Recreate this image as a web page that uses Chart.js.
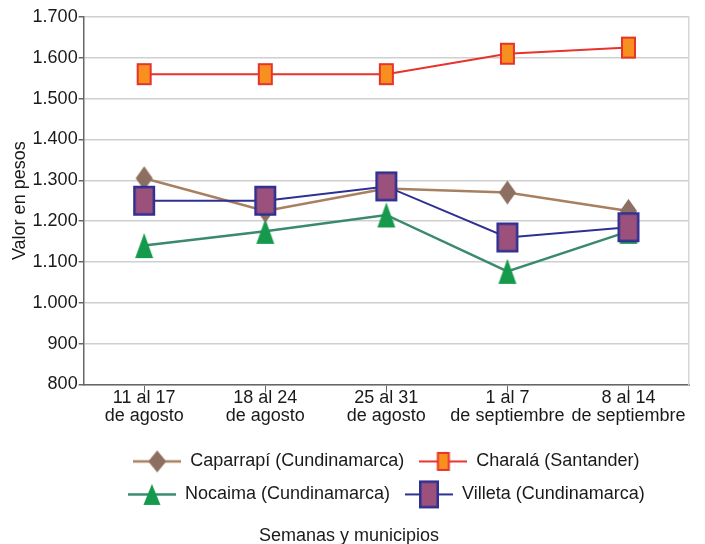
<!DOCTYPE html>
<html>
<head>
<meta charset="utf-8">
<script src="https://cdn.jsdelivr.net/npm/chart.js@4/dist/chart.umd.min.js"></script>
<style>
  html, body { margin: 0; padding: 0; background: #fff; }
</style>
</head>
<body>
<canvas id="chart" width="705" height="544"></canvas>
<script>
// Semanas (categorias del eje x)
const weeks = [
  ['11 al 17', 'de agosto'],
  ['18 al 24', 'de agosto'],
  ['25 al 31', 'de agosto'],
  ['1 al 7', 'de septiembre'],
  ['8 al 14', 'de septiembre']
];

// Valor en pesos por municipio
const caparrapi = [1305, 1225, 1280, 1270, 1225];
const charala = [1560, 1560, 1560, 1610, 1625];
const nocaima = [1140, 1175, 1215, 1077, 1175];
const villeta = [1250, 1250, 1285, 1160, 1185];

const yTicks = [800, 900, 1000, 1100, 1200, 1300, 1400, 1500, 1600, 1700];
const yTickLabels = ['800', '900', '1.000', '1.100', '1.200', '1.300', '1.400', '1.500', '1.600', '1.700'];

// Marker images (optionally with the series line through them for the legend)
function marker(shape, w, h, fill, stroke, lw, lineColor, lineW, boxW) {
  const cw = boxW || w + 2;
  const ch = h + 2;
  const c = document.createElement('canvas');
  c.width = cw;
  c.height = ch;
  const ctx = c.getContext('2d');
  const cx = cw / 2, cy = ch / 2;
  if (boxW) {
    ctx.strokeStyle = lineColor;
    ctx.lineWidth = lineW;
    ctx.beginPath();
    ctx.moveTo(0, cy);
    ctx.lineTo(cw, cy);
    ctx.stroke();
  }
  ctx.fillStyle = fill;
  ctx.beginPath();
  if (shape === 'diamond') {
    ctx.moveTo(cx, cy - h / 2);
    ctx.lineTo(cx + w / 2, cy);
    ctx.lineTo(cx, cy + h / 2);
    ctx.lineTo(cx - w / 2, cy);
    ctx.closePath();
  } else if (shape === 'triangle') {
    ctx.moveTo(cx, cy - h / 2);
    ctx.lineTo(cx + w / 2, cy + h / 2);
    ctx.lineTo(cx - w / 2, cy + h / 2);
    ctx.closePath();
  } else {
    ctx.rect(cx - w / 2 + lw / 2, cy - h / 2 + lw / 2, w - lw, h - lw);
  }
  ctx.fill();
  if (stroke) {
    ctx.strokeStyle = stroke;
    ctx.lineWidth = lw;
    ctx.stroke();
  }
  return c;
}

const styles = [
  { line: '#a8805f', shape: 'diamond', fill: '#8c6f60', stroke: null, lw: 0, w: 17, h: 24, lgW: 18, lgH: 22, width: 2.5 },
  { line: '#e8322b', shape: 'rect', fill: '#f7901e', stroke: '#e8322b', lw: 2, w: 15, h: 22, lgW: 13, lgH: 19, width: 2 },
  { line: '#3b8a6c', shape: 'triangle', fill: '#14994d', stroke: null, lw: 0, w: 18, h: 25, lgW: 17, lgH: 21, width: 2.5 },
  { line: '#2e3192', shape: 'rect', fill: '#9c507c', stroke: '#2e3192', lw: 2.5, w: 22, h: 30, lgW: 20, lgH: 28, width: 2 }
];
const names = ['Caparrapí (Cundinamarca)', 'Charalá (Santander)', 'Nocaima (Cundinamarca)', 'Villeta (Cundinamarca)'];
const series = [caparrapi, charala, nocaima, villeta];
const drawOrder = [1, 3, 2, 0];

const legendIcons = styles.map(s => marker(s.shape, s.lgW, s.lgH, s.fill, s.stroke, s.lw, s.line, s.width, 48));

const datasets = series.map((data, i) => {
  const s = styles[i];
  return {
    label: names[i],
    data: data,
    borderColor: s.line,
    borderWidth: s.width,
    backgroundColor: s.fill,
    pointStyle: marker(s.shape, s.w, s.h, s.fill, s.stroke, s.lw),
    pointRadius: 5,
    tension: 0,
    order: drawOrder[i]
  };
});

const font = 'Liberation Sans, Arial, Helvetica, sans-serif';

new Chart(document.getElementById('chart'), {
  type: 'line',
  data: { labels: weeks, datasets: datasets },
  options: {
    responsive: false,
    animation: false,
    layout: { padding: { top: 17, right: 16, left: 9, bottom: 0 } },
    scales: {
      x: {
        offset: true,
        grid: { drawOnChartArea: false, tickLength: 8, tickColor: '#666', offset: false },
        border: { color: '#666', width: 1.5 },
        ticks: { color: '#1a1a1a', font: { family: font, size: 18, lineHeight: 1 }, padding: -3, maxRotation: 0, autoSkip: false },
        afterFit: scale => { scale.height += 15; }
      },
      y: {
        min: 800,
        max: 1700,
        afterBuildTicks: axis => { axis.ticks = yTicks.map(v => ({ value: v })); },
        grid: { color: '#cfcfcf', lineWidth: 1.5, tickLength: 5, tickColor: '#666' },
        border: { color: '#666', width: 1.5 },
        ticks: {
          color: '#1a1a1a',
          font: { family: font, size: 18 },
          padding: 1,
          callback: (v, i) => yTickLabels[i]
        },
        title: { display: true, text: 'Valor en pesos', color: '#1a1a1a', font: { family: font, size: 18 }, padding: { top: 0, bottom: 1 } }
      },
      y2: {
        position: 'right',
        min: 800,
        max: 1700,
        grid: { drawOnChartArea: false, drawTicks: false },
        border: { color: '#d6d6d6', width: 1.5 },
        ticks: { display: false }
      }
    },
    plugins: {
      legend: {
        position: 'bottom',
        fullSize: false,
        labels: {
          usePointStyle: true,
          pointStyleWidth: 48,
          padding: 15,
          color: '#1a1a1a',
          font: { family: font, size: 18 },
          sort: (a, b) => a.datasetIndex - b.datasetIndex,
          generateLabels: chart => {
            const items = Chart.defaults.plugins.legend.labels.generateLabels(chart);
            items.forEach(it => { it.pointStyle = legendIcons[it.datasetIndex]; });
            return items;
          }
        }
      },
      title: {
        display: true,
        position: 'bottom',
        text: 'Semanas y municipios',
        color: '#1a1a1a',
        font: { family: font, size: 18, weight: 'normal' },
        padding: { top: 12, bottom: -3 }
      },
      tooltip: { enabled: false }
    }
  }
});
</script>
</body>
</html>
